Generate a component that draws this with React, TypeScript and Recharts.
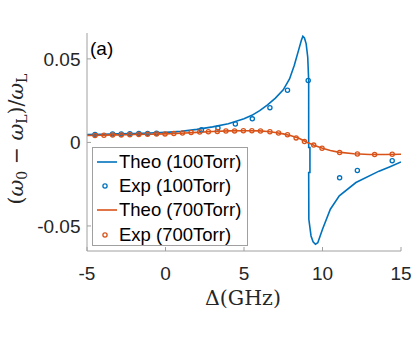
import { ComposedChart, Line, XAxis, YAxis } from 'recharts'

const BLUE = '#0072BD'
const ORANGE = '#D95319'
const AXIS = '#a0a0a0'
const INK = '#262626'
const SANS = '"Liberation Sans", Arial, Helvetica, sans-serif'
const SERIF = '"DejaVu Serif", "Liberation Serif", serif'

// axis ticks
const xTicks = [-5, 0, 5, 10, 15]
const yTicks = [-0.05, 0, 0.05]
const yTickLabels = ['-0.05', '0', '0.05']

// Theo (100Torr) (the spike near 9.1 GHz goes back and forth)
const theo100X = [
  -5, -4, -3, -2, -1, 0, 1, 2, 3, 4, 5, 5.5, 6, 6.5, 7, 7.5, 7.9, 8.2, 8.5, 8.65, 8.75,
  8.85, 8.96, 9.06, 9.12, 9.12, 9.2, 9.2, 9.12, 9.13, 9.27, 9.4, 9.55, 9.7, 10, 10.5,
  11.07, 12.13, 13.6, 14.3, 15,
]
const theo100Y = [
  0.0047, 0.0049, 0.0051, 0.0053, 0.0056, 0.006, 0.0066, 0.0078, 0.0093, 0.0112, 0.0142,
  0.0162, 0.019, 0.0225, 0.0265, 0.0315, 0.038, 0.046, 0.056, 0.061, 0.0635, 0.0625, 0.059,
  0.051, 0.037, -0.003, -0.003, -0.018, -0.018, -0.046, -0.056, -0.0595, -0.061, -0.06,
  -0.052, -0.04, -0.032, -0.024, -0.0172, -0.0145, -0.0117,
]

// Exp (100Torr)
const exp100X = [
  -4.49, -3.37, -2.82, -2.27, -1.7, -1.14, -0.57, 2.29, 3.34, 4.45, 5.53, 6.65, 7.77, 9.09,
  11.09, 12.22, 14.44,
]
const exp100Y = [
  0.0048, 0.005, 0.0051, 0.0052, 0.0053, 0.0054, 0.0055, 0.0076, 0.0086, 0.011, 0.0141,
  0.0208, 0.0312, 0.0371, -0.0212, -0.0168, -0.0109,
]

// Theo (700Torr)
const theo700X = [
  -5, -4, -3, -2, -1, 0, 1, 2, 3, 4, 5, 6, 6.5, 7, 7.5, 8, 8.5, 9, 9.5, 10, 10.5, 11, 12,
  13, 14, 15,
]
const theo700Y = [
  0.0041, 0.0043, 0.0045, 0.0047, 0.0049, 0.0051, 0.0055, 0.006, 0.0065, 0.0069, 0.007,
  0.0069, 0.0065, 0.0059, 0.0051, 0.004, 0.0025, 0.0001, -0.0018, -0.0035, -0.0048,
  -0.0058, -0.0068, -0.0072, -0.0072, -0.0071,
]

// Exp (700Torr)
const exp700X = [
  -4.49, -3.92, -3.37, -2.82, -2.27, -1.7, -1.14, -0.57, -0.03, 0.53, 1.08, 1.63, 2.18,
  2.73, 3.3, 3.85, 4.4, 4.96, 5.5, 6.05, 6.65, 7.2, 7.77, 8.32, 8.85, 9.44, 9.97, 11.09,
  12.22, 13.32, 14.44,
]
const exp700Y = [
  0.0042, 0.0043, 0.0044, 0.0045, 0.0046, 0.0048, 0.0049, 0.005, 0.0051, 0.0053, 0.0056,
  0.0059, 0.0062, 0.0064, 0.0066, 0.0068, 0.0069, 0.007, 0.007, 0.0068, 0.0064, 0.0056,
  0.0046, 0.0027, 0.0005, -0.0016, -0.0035, -0.006, -0.0069, -0.0073, -0.0071,
]

const zip = (xs: number[], ys: number[]) => xs.map((x, i) => ({ x, y: ys[i] }))

const theo100 = zip(theo100X, theo100Y)
const exp100 = zip(exp100X, exp100Y)
const theo700 = zip(theo700X, theo700Y)
const exp700 = zip(exp700X, exp700Y)

const legendItems = [
  { label: 'Theo (100Torr)', color: BLUE, kind: 'line' },
  { label: 'Exp (100Torr)', color: BLUE, kind: 'dot' },
  { label: 'Theo (700Torr)', color: ORANGE, kind: 'line' },
  { label: 'Exp (700Torr)', color: ORANGE, kind: 'dot' },
]

const tickStyle = { fill: INK, fontSize: 19, fontFamily: SANS }

function XTitle() {
  return (
    <text x={243} y={305} textAnchor="middle" fontFamily={SERIF} fontSize={20.5} fill={INK}>
      Δ(GHz)
    </text>
  )
}

function YTitle() {
  return (
    <text
      transform="translate(23,139) rotate(-90)"
      textAnchor="middle"
      fontFamily={SERIF}
      fontSize={20.5}
      fill={INK}
    >
      (<tspan fontStyle="italic">ω</tspan>
      <tspan fontSize={14} dy={4}>0</tspan>
      <tspan dy={-4}> − </tspan>
      <tspan fontStyle="italic">ω</tspan>
      <tspan fontSize={14} dy={4}>L</tspan>
      <tspan dy={-4}>)/</tspan>
      <tspan fontStyle="italic">ω</tspan>
      <tspan fontSize={14} dy={4}>L</tspan>
    </text>
  )
}

export default function App() {
  const markerDot = (color: string) => ({ r: 2.1, fill: 'none', stroke: color, strokeWidth: 1.3 })

  return (
    <div style={{ position: 'absolute', left: 0, top: 0, width: 415, height: 337, background: '#fff' }}>
      <ComposedChart width={415} height={337} margin={{ top: 33, right: 14, bottom: 36, left: 27 }}>
        <XAxis
          xAxisId="b"
          type="number"
          dataKey="x"
          domain={[-5, 15]}
          ticks={xTicks}
          allowDataOverflow
          height={50}
          stroke={AXIS}
          tickSize={-4}
          tickMargin={20}
          tick={tickStyle}
          label={{ content: () => <XTitle /> }}
        />
        <XAxis
          xAxisId="t"
          orientation="top"
          type="number"
          dataKey="x"
          domain={[-5, 15]}
          ticks={xTicks}
          allowDataOverflow
          height={0}
          stroke={AXIS}
          tickSize={-4}
          tickFormatter={() => ''}
        />
        <YAxis
          yAxisId="l"
          type="number"
          domain={[-0.065, 0.0655]}
          ticks={yTicks}
          allowDataOverflow
          width={60}
          stroke={AXIS}
          tickSize={-4}
          tickMargin={10.5}
          tick={tickStyle}
          tickFormatter={(v: number) => yTickLabels[yTicks.indexOf(v)] ?? String(v)}
          label={{ content: () => <YTitle /> }}
        />
        <YAxis
          yAxisId="r"
          orientation="right"
          type="number"
          domain={[-0.065, 0.0655]}
          ticks={yTicks}
          allowDataOverflow
          width={0}
          stroke={AXIS}
          tickSize={-4}
          tickFormatter={() => ''}
        />
        <Line
          xAxisId="b"
          yAxisId="l"
          data={theo100}
          dataKey="y"
          type="linear"
          stroke={BLUE}
          strokeWidth={1.6}
          dot={false}
          isAnimationActive={false}
        />
        <Line
          xAxisId="b"
          yAxisId="l"
          data={exp100}
          dataKey="y"
          stroke="none"
          dot={markerDot(BLUE)}
          isAnimationActive={false}
        />
        <Line
          xAxisId="b"
          yAxisId="l"
          data={theo700}
          dataKey="y"
          type="linear"
          stroke={ORANGE}
          strokeWidth={1.6}
          dot={false}
          isAnimationActive={false}
        />
        <Line
          xAxisId="b"
          yAxisId="l"
          data={exp700}
          dataKey="y"
          stroke="none"
          dot={markerDot(ORANGE)}
          isAnimationActive={false}
        />
      </ComposedChart>

      {/* panel tag */}
      <div
        style={{
          position: 'absolute',
          left: 90,
          top: 38,
          fontFamily: SANS,
          fontSize: 19,
          lineHeight: '22px',
          color: '#000',
        }}
      >
        (a)
      </div>

      {/* legend, MATLAB style box */}
      <div
        style={{
          position: 'absolute',
          left: 92,
          top: 147,
          width: 156,
          height: 99,
          boxSizing: 'border-box',
          border: `1px solid ${AXIS}`,
          background: '#fff',
          paddingTop: 2,
        }}
      >
        {legendItems.map((item) => (
          <div key={item.label} style={{ display: 'flex', alignItems: 'center', height: 24.2 }}>
            <svg width={26} height={24} style={{ flex: 'none' }}>
              {item.kind === 'line' ? (
                <line x1={4} x2={24} y1={12} y2={12} stroke={item.color} strokeWidth={1.6} />
              ) : (
                <circle cx={12} cy={12} r={2.1} fill="none" stroke={item.color} strokeWidth={1.3} />
              )}
            </svg>
            <span style={{ fontFamily: SANS, fontSize: 18.5, color: '#000', whiteSpace: 'nowrap' }}>
              {item.label}
            </span>
          </div>
        ))}
      </div>
    </div>
  )
}
